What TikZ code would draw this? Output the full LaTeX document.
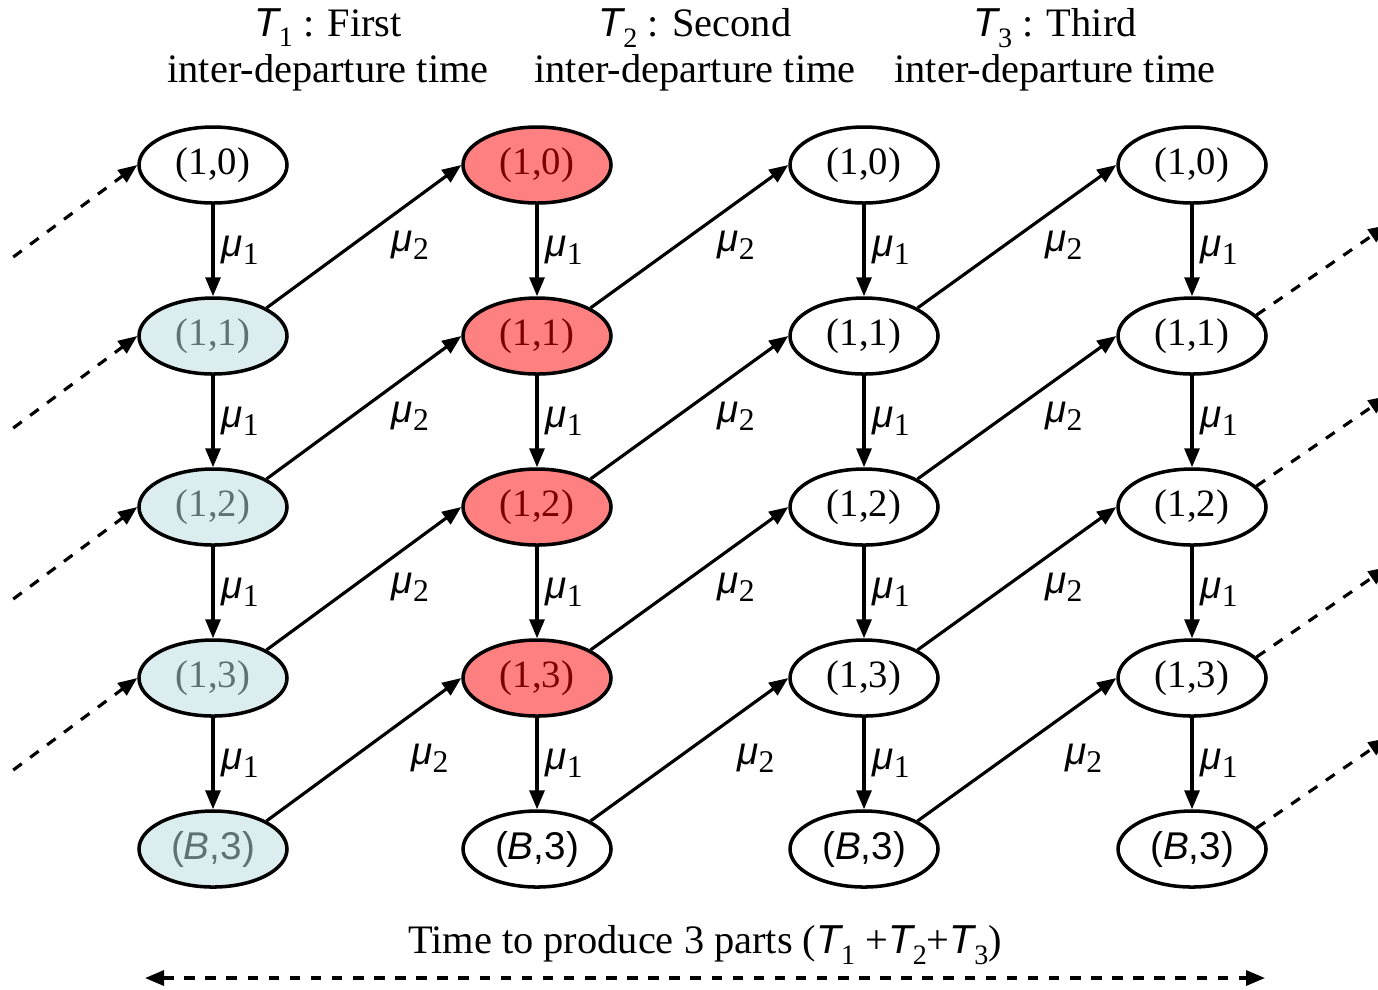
\documentclass[tikz,border=0pt]{standalone}
\usepackage{fontspec}
\setmainfont{Liberation Serif}
\setsansfont{Liberation Sans}
\usepackage{xcolor}
\usetikzlibrary{shapes.geometric,arrows.meta,positioning,calc}

\definecolor{doneblue}{HTML}{DCEDF0}
\definecolor{donetext}{HTML}{5E7174}
\definecolor{curred}{HTML}{FF8080}
\definecolor{curtext}{HTML}{7A0000}

\newcommand{\mua}{{\sffamily\itshape μ}\raisebox{-0.45ex}{\rmfamily\upshape\fontsize{9}{9}\selectfont 1}}
\newcommand{\mub}{{\sffamily\itshape μ}\raisebox{-0.45ex}{\rmfamily\upshape\fontsize{9}{9}\selectfont 2}}
\newcommand{\tsub}[1]{{\sffamily\itshape T}\raisebox{-0.55ex}{\fontsize{8}{8}\selectfont #1}}
\newcommand{\bst}{{\sffamily(\textit{B},3)}}

\tikzset{
  stnode/.style={ellipse, draw, line width=1pt, fill=white, minimum width=1.48cm, minimum height=0.76cm, inner sep=0pt, font=\fontsize{11}{13}\selectfont},
  donenode/.style={stnode, fill=doneblue, text=donetext},
  curnode/.style={stnode, fill=curred, text=curtext},
  trans/.style={-{Triangle[length=1.9mm,width=1.5mm]}, line width=0.9pt},
  dtrans/.style={trans, dashed},
  ratelbl/.style={font=\fontsize{11}{13}\selectfont, inner sep=2pt},
  hdr/.style={align=center, font=\fontsize{11.5}{13}\selectfont, inner sep=0pt}
}

\begin{document}
\begin{tikzpicture}[node distance=1.71cm]
\useasboundingbox (0,0) rectangle (13.78,-9.89);
% headers
\node[hdr] (h1) at (3.28,-0.5) {\tsub{1} : First\\inter-departure time};
\node[hdr] (h2) at (6.95,-0.5) {\tsub{2} : Second\\inter-departure time};
\node[hdr] (h3) at (10.55,-0.5) {\tsub{3} : Third\\inter-departure time};
% first column
\node[stnode] (a0) at (2.13,-1.65) {(1,0)};
\node[donenode, below of=a0] (a1) {(1,1)};
\node[donenode, below of=a1] (a2) {(1,2)};
\node[donenode, below of=a2] (a3) {(1,3)};
\node[donenode, below of=a3] (a4) {\bst};
% second column
\node[curnode, right of=a0, node distance=3.24cm] (b0) {(1,0)};
\node[curnode, below of=b0] (b1) {(1,1)};
\node[curnode, below of=b1] (b2) {(1,2)};
\node[curnode, below of=b2] (b3) {(1,3)};
\node[stnode, below of=b3] (b4) {\bst};
% third column
\node[stnode, right of=b0, node distance=3.27cm] (c0) {(1,0)};
\node[stnode, below of=c0] (c1) {(1,1)};
\node[stnode, below of=c1] (c2) {(1,2)};
\node[stnode, below of=c2] (c3) {(1,3)};
\node[stnode, below of=c3] (c4) {\bst};
% fourth column
\node[stnode, right of=c0, node distance=3.28cm] (d0) {(1,0)};
\node[stnode, below of=d0] (d1) {(1,1)};
\node[stnode, below of=d1] (d2) {(1,2)};
\node[stnode, below of=d2] (d3) {(1,3)};
\node[stnode, below of=d3] (d4) {\bst};
% mu1 transitions
\draw[trans] (a0) -- node[right, ratelbl] {\mua} (a1);
\draw[trans] (a1) -- node[right, ratelbl] {\mua} (a2);
\draw[trans] (a2) -- node[right, ratelbl] {\mua} (a3);
\draw[trans] (a3) -- node[right, ratelbl] {\mua} (a4);
\draw[trans] (b0) -- node[right, ratelbl] {\mua} (b1);
\draw[trans] (b1) -- node[right, ratelbl] {\mua} (b2);
\draw[trans] (b2) -- node[right, ratelbl] {\mua} (b3);
\draw[trans] (b3) -- node[right, ratelbl] {\mua} (b4);
\draw[trans] (c0) -- node[right, ratelbl] {\mua} (c1);
\draw[trans] (c1) -- node[right, ratelbl] {\mua} (c2);
\draw[trans] (c2) -- node[right, ratelbl] {\mua} (c3);
\draw[trans] (c3) -- node[right, ratelbl] {\mua} (c4);
\draw[trans] (d0) -- node[right, ratelbl] {\mua} (d1);
\draw[trans] (d1) -- node[right, ratelbl] {\mua} (d2);
\draw[trans] (d2) -- node[right, ratelbl] {\mua} (d3);
\draw[trans] (d3) -- node[right, ratelbl] {\mua} (d4);
% mu2 transitions
\draw[trans] (a1.north east) -- node[pos=0.6, anchor=north west, ratelbl] {\mub} (b0.west);
\draw[trans] (a2.north east) -- node[pos=0.6, anchor=north west, ratelbl] {\mub} (b1.west);
\draw[trans] (a3.north east) -- node[pos=0.6, anchor=north west, ratelbl] {\mub} (b2.west);
\draw[trans] (a4.north east) -- node[pos=0.7, anchor=north west, yshift=-1.5mm, ratelbl] {\mub} (b3.west);
\draw[trans] (b1.north east) -- node[pos=0.6, anchor=north west, ratelbl] {\mub} (c0.west);
\draw[trans] (b2.north east) -- node[pos=0.6, anchor=north west, ratelbl] {\mub} (c1.west);
\draw[trans] (b3.north east) -- node[pos=0.6, anchor=north west, ratelbl] {\mub} (c2.west);
\draw[trans] (b4.north east) -- node[pos=0.7, anchor=north west, yshift=-1.5mm, ratelbl] {\mub} (c3.west);
\draw[trans] (c1.north east) -- node[pos=0.6, anchor=north west, ratelbl] {\mub} (d0.west);
\draw[trans] (c2.north east) -- node[pos=0.6, anchor=north west, ratelbl] {\mub} (d1.west);
\draw[trans] (c3.north east) -- node[pos=0.6, anchor=north west, ratelbl] {\mub} (d2.west);
\draw[trans] (c4.north east) -- node[pos=0.7, anchor=north west, yshift=-1.5mm, ratelbl] {\mub} (d3.west);
% incoming from previous cycle
\coordinate (ina0) at ($(a0.west)+(-1.24,-0.92)$);
\coordinate (ina1) at ($(a1.west)+(-1.24,-0.92)$);
\coordinate (ina2) at ($(a2.west)+(-1.24,-0.92)$);
\coordinate (ina3) at ($(a3.west)+(-1.24,-0.92)$);
\draw[dtrans] (ina0) -- (a0.west);
\draw[dtrans] (ina1) -- (a1.west);
\draw[dtrans] (ina2) -- (a2.west);
\draw[dtrans] (ina3) -- (a3.west);
% outgoing to next cycle
\coordinate (outd1) at ($(d1.18)+(1.31,0.9)$);
\coordinate (outd2) at ($(d2.18)+(1.31,0.9)$);
\coordinate (outd3) at ($(d3.18)+(1.31,0.9)$);
\coordinate (outd4) at ($(d4.18)+(1.31,0.9)$);
\draw[dtrans] (d1.18) -- (outd1);
\draw[dtrans] (d2.18) -- (outd2);
\draw[dtrans] (d3.18) -- (outd3);
\draw[dtrans] (d4.18) -- (outd4);
% total time
\coordinate (spanl) at (1.45,-9.78);
\coordinate (spanr) at (12.65,-9.78);
\draw[{Triangle[length=1.9mm,width=1.5mm]}-{Triangle[length=1.9mm,width=1.5mm]}, line width=0.9pt, dashed] (spanl) -- node[above, hdr, yshift=1.2mm] {Time to produce 3 parts (\tsub{1} +\tsub{2}+\tsub{3})} (spanr);
\end{tikzpicture}
\end{document}
